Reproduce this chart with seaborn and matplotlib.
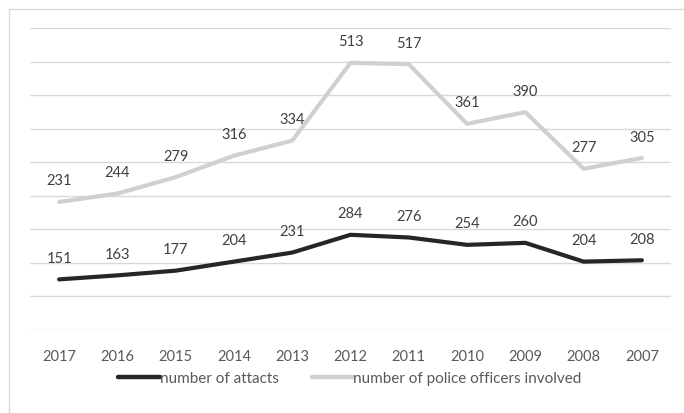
import numpy as np
import pandas as pd
import matplotlib
matplotlib.use("Agg")
import matplotlib.pyplot as plt
import seaborn as sns
from matplotlib.patches import Rectangle
from matplotlib.lines import Line2D

years = ["2017", "2016", "2015", "2014", "2013", "2012", "2011", "2010", "2009", "2008", "2007"]
attacks = [151, 163, 177, 204, 231, 284, 276, 254, 260, 204, 208]
police = [231, 244, 279, 316, 334, 513, 517, 361, 390, 277, 305]
series_names = ["number of attacts", "number of police officers involved"]

sns.set_theme(style="white")
plt.rcParams["font.family"] = ["Lato", "DejaVu Sans"]

W, H = 684, 414
fig = plt.figure(figsize=(W / 100, H / 100), dpi=100)
ax = fig.add_axes([30 / W, 1 - 331 / H, (671 - 30) / W, (331 - 29.3) / H])

pos = np.arange(len(years))
stacked_police = np.array(attacks) + np.array(police)  # stacked line chart
df = pd.DataFrame({
    "pos": np.concatenate([pos, pos]),
    "value": np.concatenate([attacks, stacked_police]),
    "series": [series_names[0]] * len(years) + [series_names[1]] * len(years),
})
palette = {series_names[0]: "#262626", series_names[1]: "#d0d0d0"}
sns.lineplot(data=df, x="pos", y="value", hue="series", palette=palette,
             hue_order=series_names, linewidth=3, ax=ax, sort=False,
             solid_capstyle="round", legend=False)

FS = 10.5
for i in range(len(years)):
    ax.annotate(str(attacks[i]), (pos[i], attacks[i]), xytext=(0, 15.5),
                textcoords="offset points", ha="center", va="center",
                fontsize=FS, color="#404040")
    ax.annotate(str(police[i]), (pos[i], stacked_police[i]), xytext=(0, 15.5),
                textcoords="offset points", ha="center", va="center",
                fontsize=FS, color="#404040")

ax.set_xlim(-0.5, len(years) - 0.5)
ax.set_ylim(0, 900)
ax.set_yticks(np.arange(0, 901, 100))
ax.set_yticklabels([])
ax.yaxis.grid(True, color="#d9d9d9", linewidth=1)
ax.xaxis.grid(False)
ax.set_xticks(pos)
ax.set_xticklabels(years, fontsize=FS, color="#595959")
ax.tick_params(axis="x", length=0, pad=14)
ax.tick_params(axis="y", length=0)
ax.set_xlabel("")
ax.set_ylabel("")
for s in ax.spines.values():
    s.set_visible(False)
ax.set_facecolor("none")

handles = [Line2D([], [], color=palette[n], linewidth=3.2, solid_capstyle="round") for n in series_names]
fig.legend(handles, series_names, loc="center", bbox_to_anchor=(350 / W, 1 - 379 / H),
           ncol=2, frameon=False, fontsize=11, handlelength=2.7, handletextpad=0.0,
           columnspacing=2.2, labelcolor="#595959")

fig.patches.append(Rectangle((8.5 / W, -0.1), 1.2, 1 - 9.5 / H + 0.1, transform=fig.transFigure,
                             fill=False, edgecolor="#d9d9d9", linewidth=1))

fig.savefig("out.png", dpi=100)
